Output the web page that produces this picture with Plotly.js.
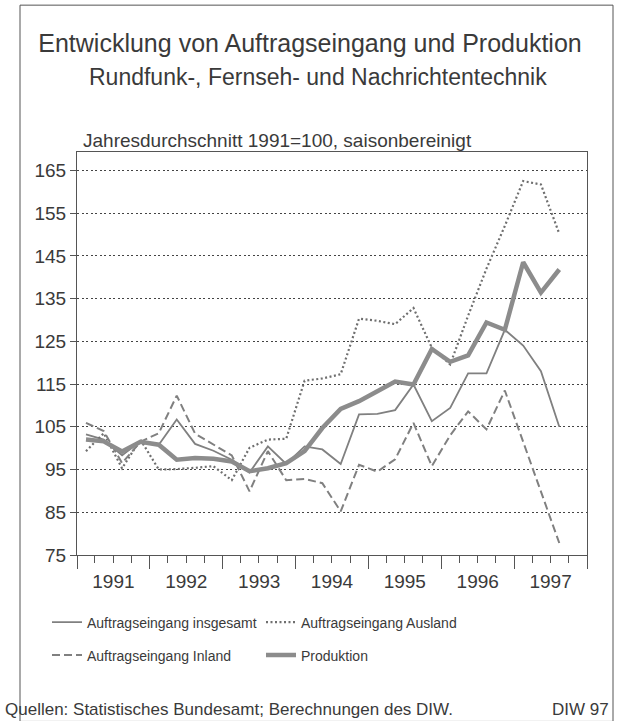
<!DOCTYPE html>
<html>
<head>
<meta charset="utf-8">
<script src="https://cdn.plot.ly/plotly-3.0.1.min.js"></script>
<style>
html,body{margin:0;padding:0;background:#fff;}
#chart{width:624px;height:721px;}
</style>
</head>
<body>
<div id="chart"></div>
<script>
// Quarter mid-points, 1991 Q1 .. 1997 Q3
const quarters = [
  "1991-02-15","1991-05-15","1991-08-15","1991-11-15",
  "1992-02-15","1992-05-15","1992-08-15","1992-11-15",
  "1993-02-15","1993-05-15","1993-08-15","1993-11-15",
  "1994-02-15","1994-05-15","1994-08-15","1994-11-15",
  "1995-02-15","1995-05-15","1995-08-15","1995-11-15",
  "1996-02-15","1996-05-15","1996-08-15","1996-11-15",
  "1997-02-15","1997-05-15","1997-08-15"
];
const auftragInsgesamt = [103.2,102,98.3,101.6, 100.8,106.7,101,99.4, 97.3,94.3,100.4,96.3, 100.4,99.7,96.3,107.9, 108,108.9,114.9,106.3, 109.4,117.5,117.5,127.7, 124,118,105];
const auftragAusland   = [99.3,103.5,95.3,102, 95,95.1,95.4,95.8, 92.5,100.1,102,102.2, 115.8,116.3,117.3,130.3, 129.8,129,132.8,123.5, 119.6,131,142,152, 162.5,161.7,150.2];
const auftragInland    = [105.9,104,96.5,101.5, 103.5,112.3,103.4,100.8, 98.3,89.9,99.3,92.5, 92.8,91.8,85.2,96.1, 94.5,97.4,105.9,95.8, 103,108.6,104.4,113.5, 101.5,90,77.8];
const produktion       = [102,101.6,99.2,101.5, 100.8,97.3,97.7,97.5, 96.9,94.6,95.3,96.5, 99.3,104.7,109.2,111, 113.3,115.6,114.9,123.2, 120.2,121.7,129.4,127.7, 143.5,136.4,141.8];
const yTicks = [75,85,95,105,115,125,135,145,155,165];
const seriesNames = ["Auftragseingang insgesamt","Auftragseingang Ausland","Auftragseingang Inland","Produktion"];

const grey = "#808080";
const txt = "#3a3a3a";
const F = "Liberation Sans, Arial, Helvetica, sans-serif";

// page geometry (px) -> paper coords
const L = 77, R = 587, T = 152, B = 555.4, W = 624, H = 721;
const px = v => (v - L) / (R - L);
const py = v => (B - v) / (B - T);

const traces = [
  {x: quarters, y: auftragInsgesamt, name: seriesNames[0], mode: "lines", legend: "legend",
   line: {color: grey, width: 1.8}},
  {x: quarters, y: auftragAusland, name: seriesNames[1], mode: "lines", legend: "legend",
   line: {color: "#6f6f6f", width: 2.2, dash: "2px,2.5px"}},
  {x: quarters, y: auftragInland, name: seriesNames[2], mode: "lines", legend: "legend2",
   line: {color: grey, width: 2, dash: "8px,4px"}},
  {x: quarters, y: produktion, name: seriesNames[3], mode: "lines", legend: "legend2",
   line: {color: "#8c8c8c", width: 4.5}}
];

const legendBase = {orientation: "h", x: px(47), xanchor: "left", yanchor: "middle",
  entrywidth: 169, entrywidthmode: "pixels", font: {size: 14, color: txt, family: F},
  itemwidth: 30, bgcolor: "rgba(0,0,0,0)", borderwidth: 0};

const layout = {
  width: W, height: H,
  margin: {l: L, r: W - R, t: T, b: H - B},
  paper_bgcolor: "#fff", plot_bgcolor: "#fff",
  font: {family: F, color: txt, size: 16},
  showlegend: true,
  legend: Object.assign({}, legendBase, {y: py(623)}),
  legend2: Object.assign({}, legendBase, {y: py(656)}),
  xaxis: {
    type: "date", range: ["1991-01-01", "1998-01-01"],
    tick0: "1991-01-01", dtick: "M12", ticklabelmode: "period", tickformat: "%Y",
    ticks: "outside", ticklen: 13, tickwidth: 1, tickcolor: "#555",
    ticklabelstandoff: -4,
    minor: {dtick: "M3", ticks: "outside", ticklen: 7, tickcolor: "#555", tickwidth: 1, showgrid: false},
    showline: true, linecolor: "#555", linewidth: 1, mirror: true,
    showgrid: false, zeroline: false,
    tickfont: {size: 19, color: txt}
  },
  yaxis: {
    range: [75, 169.3], tickvals: yTicks, ticktext: yTicks.map(String),
    ticks: "outside", ticklen: 6, tickcolor: "#555",
    showline: true, linecolor: "#555", linewidth: 1, mirror: true,
    showgrid: true, gridcolor: "#444", griddash: "2px,2.5px", gridwidth: 1,
    zeroline: false, tickfont: {size: 19, color: txt}
  },
  title: {text: "Entwicklung von Auftragseingang und Produktion",
          font: {size: 25, color: txt, family: F},
          x: 310 / W, xref: "container", xanchor: "center",
          y: 1 - 43 / H, yref: "container", yanchor: "middle"},
  annotations: [
    {text: "Rundfunk-, Fernseh- und Nachrichtentechnik", xref: "paper", yref: "paper",
     x: px(318), y: py(77), xanchor: "center", yanchor: "middle", showarrow: false,
     font: {size: 23, color: txt}},
    {text: "Jahresdurchschnitt 1991=100, saisonbereinigt", xref: "paper", yref: "paper",
     x: px(81), y: py(140), xanchor: "left", yanchor: "middle", showarrow: false,
     font: {size: 19, color: txt}},
    {text: "Quellen: Statistisches Bundesamt; Berechnungen des DIW.", xref: "paper", yref: "paper",
     x: px(3), y: py(710), xanchor: "left", yanchor: "middle", showarrow: false,
     font: {size: 17, color: txt}},
    {text: "DIW 97", xref: "paper", yref: "paper",
     x: px(611), y: py(710), xanchor: "right", yanchor: "middle", showarrow: false,
     font: {size: 17, color: txt}}
  ],
  shapes: [
    {type: "rect", xref: "paper", yref: "paper",
     x0: px(20), x1: px(613), y0: py(722), y1: py(5),
     line: {color: "#555", width: 1}, fillcolor: "rgba(0,0,0,0)", layer: "below"}
  ]
};

Plotly.newPlot("chart", traces, layout, {displayModeBar: false, staticPlot: true});
</script>
</body>
</html>
